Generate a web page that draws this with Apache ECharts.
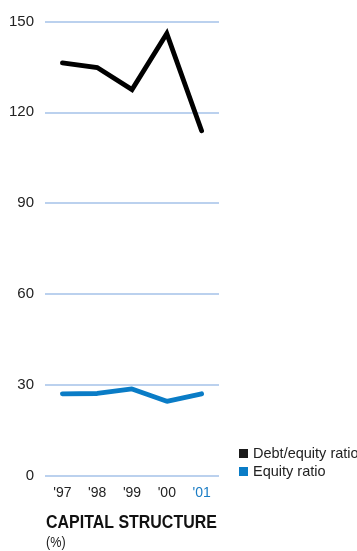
<!DOCTYPE html>
<html><head><meta charset="utf-8">
<script src="https://cdn.jsdelivr.net/npm/echarts@6/dist/echarts.min.js"></script>
<style>html,body{margin:0;padding:0;background:#fff}#c{width:357px;height:551px}</style>
</head><body><div id="c"></div>
<script>
const categories = ["'97", "'98", "'99", "'00", "'01"];
const debtEquity = [136.3, 134.8, 127.5, 146.0, 113.9];
const equityRatio = [27.0, 27.1, 28.6, 24.5, 27.0];
const yTicks = [0, 30, 60, 90, 120, 150];

const FONT = '"Liberation Sans", Arial, sans-serif';
const chart = echarts.init(document.getElementById('c'), null, {renderer: 'canvas'});
chart.setOption({
  animation: false,
  textStyle: {fontFamily: FONT},
  graphic: [
    {type: 'text', x: 46, y: 523, scaleX: 0.84,
     style: {text: 'CAPITAL STRUCTURE', font: 'bold 19px ' + FONT, fill: '#111', verticalAlign: 'middle', align: 'left'}},
    {type: 'text', x: 46, y: 543, scaleX: 0.9,
     style: {text: '(%)', font: '14px ' + FONT, fill: '#222', verticalAlign: 'middle', align: 'left'}}
  ],
  legend: {
    orient: 'vertical',
    left: 234, top: 441,
    itemWidth: 9, itemHeight: 9, itemGap: 3,
    icon: 'rect',
    textStyle: {fontFamily: FONT, fontSize: 14.5, color: '#222'},
    data: ['Debt/equity ratio', 'Equity ratio']
  },
  grid: {left: 45, right: 138, top: 21.5, bottom: 551 - 475.5, containLabel: false},
  xAxis: {
    type: 'category',
    data: categories,
    boundaryGap: true,
    axisLine: {show: false},
    axisTick: {show: false},
    axisLabel: {
      margin: 11, fontSize: 14, fontFamily: FONT,
      color: function (v, i) { return i === categories.length - 1 ? '#1a7cc4' : '#222'; }
    }
  },
  yAxis: {
    type: 'value', min: yTicks[0], max: yTicks[yTicks.length - 1], interval: 30,
    axisLine: {show: false}, axisTick: {show: false},
    axisLabel: {margin: 11, fontSize: 15, fontFamily: FONT, color: '#222'},
    splitLine: {lineStyle: {color: '#a4c2e8', width: 1.5}}
  },
  series: [
    {name: 'Debt/equity ratio', type: 'line', data: debtEquity, symbol: 'none',
     itemStyle: {color: '#1a1a1a'}, lineStyle: {color: '#000', width: 4.8, cap: 'round', join: 'miter'}},
    {name: 'Equity ratio', type: 'line', data: equityRatio, symbol: 'none',
     itemStyle: {color: '#0a7cc6'}, lineStyle: {color: '#0a7cc6', width: 4.8, cap: 'round'}}
  ]
});
</script></body></html>
